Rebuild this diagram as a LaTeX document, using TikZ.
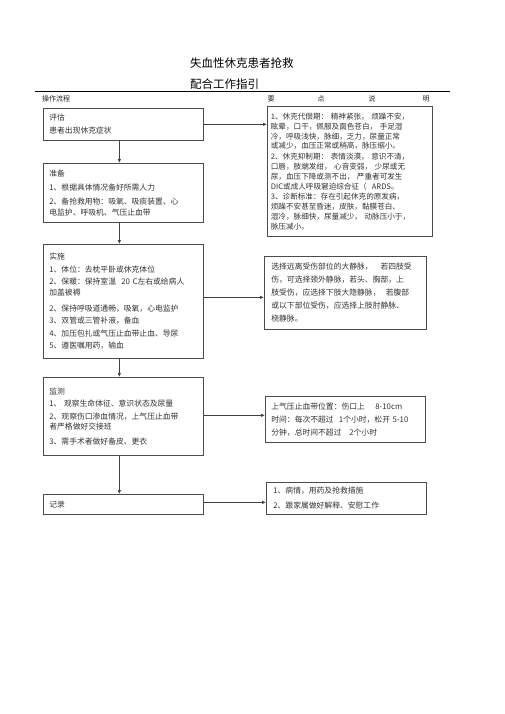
\documentclass[tikz,border=0pt]{standalone}
\usepackage{fontspec}
\newfontfamily\cjk{Noto Sans CJK SC}
\usetikzlibrary{arrows.meta}
\begin{document}
\begin{tikzpicture}[x=1pt,y=1pt,
 every node/.style={font=\cjk},
 flowbox/.style={draw=black!70, line width=0.7pt, rectangle, anchor=north west, inner ysep=0pt, align=left, text=black!80, font=\cjk\fontsize{7.8}{13}\selectfont},
 notebox/.style={flowbox},
 conn/.style={draw=black!75, line width=0.8pt, -{Latex[length=4pt,width=3.5pt]}},
 headtxt/.style={font=\cjk\fontsize{7}{8}\selectfont, text=black!85, inner sep=0pt},
 titletxt/.style={font=\cjk\fontsize{11.5}{13}\selectfont, anchor=west, inner sep=0pt},
]
\useasboundingbox (0,0) rectangle (505,-714);
\fill[white] (0,0) rectangle (505,-714);

% titles
\node[titletxt] (t1) at (190,-63) {失血性休克患者抢救};
\node[titletxt] (t2) at (190,-84) {配合工作指引};
\coordinate (ruleL) at (35,-91.5);
\coordinate (ruleR) at (450,-91.5);
\draw[line width=0.8pt] (ruleL) -- (ruleR);

% header
\node[headtxt, anchor=west] (h0) at (42,-99) {操作流程};
\node[headtxt] (h1) at (271,-99) {要};
\node[headtxt] (h2) at (321,-99) {点};
\node[headtxt] (h3) at (372,-99) {说};
\node[headtxt] (h4) at (426,-99) {明};

% left column
\node[flowbox, inner xsep=6pt, text width=148pt, minimum height=32pt] (pg) at (43,-108)
 {评估\\患者出现休克症状};
\node[flowbox, inner xsep=6pt, text width=148pt, minimum height=59pt] (zb) at (43,-163)
 {准备\\[1pt]1、根据具体情况备好所需人力\\[1pt]2、备抢救用物：吸氧、吸痰装置、心\\[-1.5pt]电监护、呼吸机、气压止血带};
\node[flowbox, inner xsep=6pt, text width=148pt, minimum height=114pt] (ss) at (43,-244)
 {实施\\[-0.5pt]1、体位：去枕平卧或休克体位\\[-0.5pt]2、保暖：保持室温\ \ 20 C左右或给病人\\[-2pt]加盖被褥\\[2.5pt]2、保持呼吸道通畅，吸氧，心电监护\\[-0.5pt]3、双管或三管补液，备血\\[-0.5pt]4、加压包扎或气压止血带止血、导尿\\[-0.5pt]5、遵医嘱用药，输血};
\node[flowbox, inner xsep=6pt, text width=148pt, minimum height=78pt] (jc) at (43,-377)
 {监测\\[-0.5pt]1、\ 观察生命体征、意识状态及尿量\\[-0.5pt]2、观察伤口渗血情况，上气压止血带\\[-3pt]者严格做好交接班\\[2pt]3、需手术者做好备皮、更衣};
\node[flowbox, inner xsep=6pt, text width=148pt, minimum height=20pt] (jl) at (43,-494)
 {记录};

% right column
\node[notebox, inner xsep=3.5pt, text width=158pt, minimum height=130pt,
      font=\cjk\fontsize{7.6}{9.9}\selectfont] (r1) at (267,-106)
 {1、休克代偿期：\ 精神紧张，\ 烦躁不安，\\
  眩晕，口干，佩服及面色苍白，\ 手足湿\\
  冷，呼吸浅快，脉细，乏力，尿量正常\\
  或减少，血压正常或稍高，脉压缩小。\\[1pt]
  2、休克抑制期：\ 表情淡漠，\ 意识不清，\\
  口唇，肢端发绀，\ 心音变弱，\ 少尿或无\\
  尿，血压下降或测不出，\ 严重者可发生\\
  DIC或成人呼吸窘迫综合征（\ \ ARDS。\\
  3、诊断标准：存在引起休克的原发病，\\
  烦躁不安甚至昏迷，皮肤，黏膜苍白、\\
  湿冷，脉细快，尿量减少，\ 动脉压小于，\\
  脉压减小。};
\node[notebox, inner xsep=7pt, text width=148pt, minimum height=73pt] (r2) at (264,-256)
 {选择远离受伤部位的大静脉，\ \ \ 若四肢受\\
  伤，可选择颈外静脉，若头、胸部，上\\
  肢受伤，应选择下肢大隐静脉，\ \ 若腹部\\
  或以下部位受伤，应选择上肢肘静脉、\\
  桡静脉。};
\node[notebox, inner xsep=6pt, text width=148pt, minimum height=46pt] (r3) at (265,-396)
 {上气压止血带位置：伤口上\ \ \ \ 8-10cm\\
  时间：每次不超过\ \ 1个小时，松开\ 5-10\\
  分钟，总时间不超过\ \ \ 2个小时};
\node[notebox, inner xsep=7pt, text width=146pt, minimum height=32pt,
      font=\cjk\fontsize{7.8}{15}\selectfont] (r4) at (266,-482)
 {1、病情，用药及抢救措施\\2、跟家属做好解释、安慰工作};

% vertical connectors
\draw[conn] ([xshift=-4pt]pg.south) -- ([xshift=-4pt]zb.north);
\draw[conn] ([xshift=-4pt]zb.south) -- ([xshift=-4pt]ss.north);
\draw[conn] ([xshift=-4pt]ss.south) -- ([xshift=-4pt]jc.north);
\draw[conn] ([xshift=-4pt]jc.south) -- ([xshift=-4pt]jl.north);

% horizontal connectors
\draw[conn] (pg.east) -- (pg.east -| r1.west);
\draw[conn] ([yshift=4pt]ss.east) -- ([yshift=4pt]ss.east -| r2.west);
\draw[conn] ([yshift=1pt]jc.east) -- ([yshift=1pt]jc.east -| r3.west);
\draw[conn] ([yshift=2pt]jl.east) -- ([yshift=2pt]jl.east -| r4.west);
\end{tikzpicture}
\end{document}
